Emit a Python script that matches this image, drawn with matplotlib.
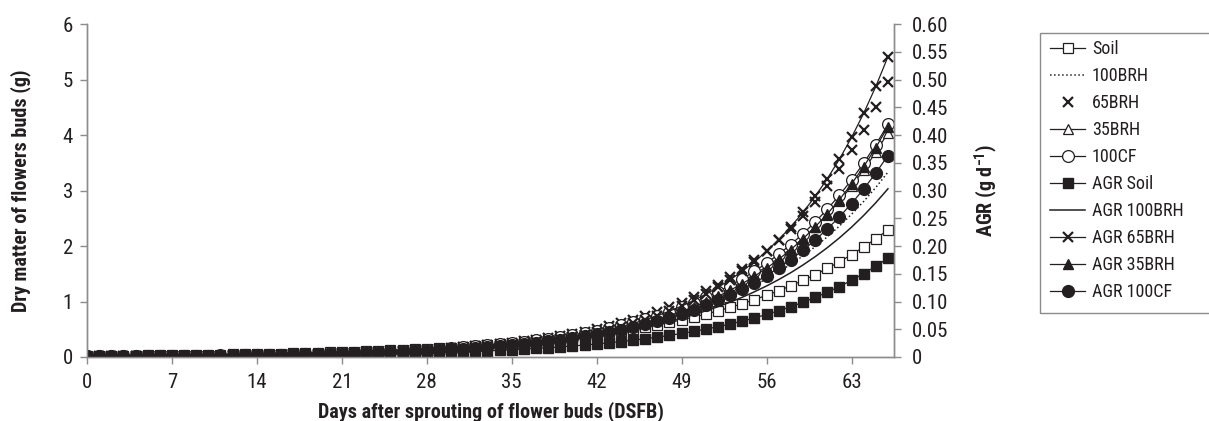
import numpy as np
import matplotlib
matplotlib.use("Agg")
from matplotlib import pyplot as plt
from matplotlib import font_manager
from matplotlib.patches import Rectangle
from matplotlib.ticker import FuncFormatter

# Dias apos a brotacao (0..66)
days = np.arange(0, 67)

# Materia seca dos botoes florais (g)
soil_dm = [0.019, 0.021, 0.022, 0.024, 0.026, 0.028, 0.030, 0.032, 0.034, 0.037,
           0.040, 0.043, 0.046, 0.049, 0.053, 0.057, 0.061, 0.066, 0.071, 0.076,
           0.082, 0.088, 0.095, 0.102, 0.110, 0.118, 0.127, 0.136, 0.147, 0.158,
           0.170, 0.182, 0.196, 0.211, 0.226, 0.243, 0.262, 0.281, 0.302, 0.325,
           0.349, 0.376, 0.404, 0.434, 0.467, 0.502, 0.539, 0.580, 0.623, 0.670,
           0.720, 0.774, 0.832, 0.894, 0.961, 1.034, 1.111, 1.194, 1.284, 1.380,
           1.484, 1.595, 1.715, 1.843, 1.982, 2.130, 2.290]
brh100_dm = [0.011, 0.012, 0.013, 0.015, 0.016, 0.017, 0.019, 0.021, 0.022, 0.025,
             0.027, 0.029, 0.032, 0.035, 0.038, 0.041, 0.045, 0.049, 0.053, 0.058,
             0.063, 0.069, 0.075, 0.082, 0.089, 0.097, 0.106, 0.116, 0.126, 0.137,
             0.150, 0.163, 0.178, 0.194, 0.211, 0.230, 0.251, 0.274, 0.298, 0.325,
             0.354, 0.386, 0.421, 0.459, 0.500, 0.545, 0.594, 0.648, 0.706, 0.770,
             0.839, 0.914, 0.997, 1.086, 1.184, 1.291, 1.407, 1.533, 1.671, 1.822,
             1.986, 2.164, 2.359, 2.571, 2.803, 3.055, 3.330]
brh65_dm = [0.009, 0.010, 0.011, 0.012, 0.013, 0.015, 0.016, 0.018, 0.020, 0.022,
            0.024, 0.026, 0.029, 0.032, 0.035, 0.038, 0.042, 0.046, 0.051, 0.056,
            0.062, 0.068, 0.075, 0.082, 0.091, 0.100, 0.110, 0.121, 0.133, 0.146,
            0.160, 0.177, 0.194, 0.214, 0.235, 0.259, 0.284, 0.313, 0.344, 0.378,
            0.416, 0.458, 0.504, 0.554, 0.609, 0.670, 0.737, 0.811, 0.892, 0.981,
            1.080, 1.187, 1.306, 1.437, 1.580, 1.739, 1.912, 2.104, 2.314, 2.545,
            2.800, 3.080, 3.388, 3.727, 4.099, 4.509, 4.960]
brh35_dm = [0.011, 0.012, 0.013, 0.013, 0.014, 0.016, 0.017, 0.019, 0.021, 0.023,
            0.025, 0.028, 0.030, 0.033, 0.036, 0.040, 0.043, 0.047, 0.052, 0.057,
            0.063, 0.068, 0.074, 0.082, 0.090, 0.097, 0.107, 0.118, 0.128, 0.141,
            0.154, 0.169, 0.184, 0.202, 0.222, 0.242, 0.265, 0.290, 0.318, 0.348,
            0.382, 0.417, 0.458, 0.501, 0.549, 0.601, 0.658, 0.720, 0.789, 0.864,
            0.946, 1.036, 1.134, 1.242, 1.360, 1.489, 1.630, 1.785, 1.954, 2.141,
            2.344, 2.567, 2.810, 3.077, 3.369, 3.689, 4.040]
cf100_dm = [0.011, 0.012, 0.013, 0.014, 0.015, 0.017, 0.018, 0.020, 0.022, 0.024,
            0.026, 0.029, 0.031, 0.034, 0.037, 0.041, 0.045, 0.049, 0.054, 0.059,
            0.065, 0.071, 0.077, 0.085, 0.093, 0.101, 0.111, 0.122, 0.133, 0.146,
            0.160, 0.175, 0.191, 0.210, 0.230, 0.251, 0.275, 0.301, 0.330, 0.361,
            0.396, 0.433, 0.475, 0.520, 0.569, 0.623, 0.682, 0.747, 0.818, 0.896,
            0.981, 1.074, 1.176, 1.288, 1.410, 1.544, 1.691, 1.851, 2.027, 2.220,
            2.431, 2.662, 2.914, 3.191, 3.494, 3.826, 4.190]

# Taxa de crescimento absoluto, AGR (g d-1)
agr_soil = [0.0007, 0.0007, 0.0008, 0.0009, 0.0010, 0.0010, 0.0011, 0.0012, 0.0013, 0.0015,
            0.0016, 0.0017, 0.0019, 0.0020, 0.0022, 0.0024, 0.0026, 0.0028, 0.0031, 0.0034,
            0.0037, 0.0040, 0.0043, 0.0047, 0.0051, 0.0056, 0.0061, 0.0066, 0.0072, 0.0078,
            0.0085, 0.0093, 0.0101, 0.0110, 0.0120, 0.0130, 0.0142, 0.0154, 0.0168, 0.0182,
            0.0199, 0.0216, 0.0235, 0.0256, 0.0278, 0.0303, 0.0329, 0.0358, 0.0390, 0.0424,
            0.0462, 0.0502, 0.0546, 0.0594, 0.0647, 0.0704, 0.0766, 0.0833, 0.0906, 0.0986,
            0.1073, 0.1167, 0.1270, 0.1382, 0.1504, 0.1636, 0.1780]
agr_brh100 = [0.0010, 0.0011, 0.0012, 0.0014, 0.0015, 0.0015, 0.0017, 0.0019, 0.0020, 0.0023,
              0.0025, 0.0026, 0.0029, 0.0032, 0.0035, 0.0037, 0.0041, 0.0045, 0.0048, 0.0053,
              0.0057, 0.0063, 0.0068, 0.0075, 0.0081, 0.0088, 0.0096, 0.0106, 0.0115, 0.0125,
              0.0136, 0.0148, 0.0162, 0.0177, 0.0192, 0.0209, 0.0228, 0.0249, 0.0271, 0.0296,
              0.0322, 0.0351, 0.0383, 0.0418, 0.0455, 0.0496, 0.0540, 0.0590, 0.0642, 0.0701,
              0.0763, 0.0832, 0.0907, 0.0988, 0.1077, 0.1175, 0.1280, 0.1395, 0.1520, 0.1658,
              0.1807, 0.1969, 0.2146, 0.2339, 0.2550, 0.2780, 0.3030]
agr_brh65 = [0.0005, 0.0006, 0.0007, 0.0007, 0.0008, 0.0009, 0.0010, 0.0011, 0.0013, 0.0014,
             0.0016, 0.0017, 0.0019, 0.0021, 0.0024, 0.0026, 0.0029, 0.0033, 0.0036, 0.0040,
             0.0044, 0.0049, 0.0055, 0.0061, 0.0068, 0.0075, 0.0083, 0.0092, 0.0103, 0.0114,
             0.0126, 0.0140, 0.0156, 0.0173, 0.0192, 0.0213, 0.0236, 0.0262, 0.0291, 0.0323,
             0.0359, 0.0398, 0.0442, 0.0491, 0.0545, 0.0605, 0.0671, 0.0745, 0.0827, 0.0918,
             0.1019, 0.1131, 0.1255, 0.1393, 0.1547, 0.1717, 0.1905, 0.2115, 0.2348, 0.2606,
             0.2893, 0.3211, 0.3564, 0.3956, 0.4391, 0.4874, 0.5410]
agr_brh35 = [0.0008, 0.0008, 0.0009, 0.0010, 0.0011, 0.0013, 0.0013, 0.0015, 0.0017, 0.0018,
             0.0020, 0.0022, 0.0024, 0.0027, 0.0029, 0.0032, 0.0035, 0.0038, 0.0043, 0.0047,
             0.0052, 0.0057, 0.0063, 0.0069, 0.0076, 0.0084, 0.0092, 0.0101, 0.0111, 0.0122,
             0.0134, 0.0148, 0.0162, 0.0179, 0.0197, 0.0217, 0.0238, 0.0262, 0.0288, 0.0316,
             0.0348, 0.0383, 0.0422, 0.0464, 0.0510, 0.0561, 0.0617, 0.0679, 0.0746, 0.0821,
             0.0904, 0.0993, 0.1093, 0.1202, 0.1322, 0.1455, 0.1600, 0.1760, 0.1936, 0.2129,
             0.2343, 0.2577, 0.2835, 0.3118, 0.3430, 0.3773, 0.4150]
agr_cf100 = [0.0010, 0.0010, 0.0011, 0.0012, 0.0013, 0.0015, 0.0016, 0.0017, 0.0019, 0.0021,
             0.0023, 0.0025, 0.0027, 0.0029, 0.0032, 0.0036, 0.0039, 0.0042, 0.0047, 0.0051,
             0.0056, 0.0062, 0.0067, 0.0074, 0.0081, 0.0087, 0.0096, 0.0106, 0.0115, 0.0126,
             0.0139, 0.0152, 0.0165, 0.0182, 0.0199, 0.0217, 0.0238, 0.0261, 0.0286, 0.0313,
             0.0343, 0.0375, 0.0411, 0.0450, 0.0493, 0.0540, 0.0591, 0.0647, 0.0709, 0.0776,
             0.0850, 0.0930, 0.1019, 0.1116, 0.1221, 0.1338, 0.1465, 0.1604, 0.1756, 0.1923,
             0.2106, 0.2306, 0.2524, 0.2764, 0.3027, 0.3314, 0.3630]

x_ticks = [0, 7, 14, 21, 28, 35, 42, 49, 56, 63]
y_ticks = [0, 1, 2, 3, 4, 5, 6]
y2_ticks = [0, 0.05, 0.10, 0.15, 0.20, 0.25, 0.30, 0.35, 0.40, 0.45, 0.50, 0.55, 0.60]

# cerca un font stretto (tipo Helvetica Condensed), altrimenti Liberation Sans
fm = font_manager.fontManager
names = {f.name for f in fm.ttflist}
fam, stretch, narrow = 'Liberation Sans', 'normal', False
for cand in ['Liberation Sans Narrow', 'Roboto Condensed', 'Noto Sans Condensed',
             'Open Sans Condensed', 'DejaVu Sans Condensed']:
    if cand in names:
        fam, narrow = cand, True
        break
if not narrow:
    for base in ['Noto Sans', 'Roboto', 'Open Sans', 'DejaVu Sans']:
        if any(f.name == base and f.stretch == 'condensed' for f in fm.ttflist):
            fam, stretch, narrow = base, 'condensed', True
            break

plt.rcParams['font.family'] = [fam, 'DejaVu Sans']
plt.rcParams['font.stretch'] = stretch
plt.rcParams['mathtext.fontset'] = 'custom'
plt.rcParams['mathtext.rm'] = fam
plt.rcParams['mathtext.bf'] = fam + ':bold'

tick_fs = 15 if narrow else 14.5
lab_fs = 14.5 if narrow else 13
leg_fs = 13

grey = '#8c8c8c'
ink = '#231f20'
W, H = 1209, 421

fig = plt.figure(figsize=(W / 100, H / 100), dpi=100)
ax = fig.add_axes([87 / W, 1 - 357 / H, (894 - 87) / W, (357 - 24) / H])
ax2 = ax.twinx()

lw = 0.9
ax.plot(days, soil_dm, '-s', color=ink, mfc='white', mec=ink, ms=6.5, mew=0.9, lw=lw, label='Soil')
ax.plot(days, brh100_dm, ':', color=ink, lw=1.1, label='100BRH')
ax.plot(days, brh65_dm, 'x', color=ink, ms=7, mew=1.6, ls='none', label='65BRH')
ax.plot(days, brh35_dm, '-^', color=ink, mfc='white', mec=ink, ms=7.5, mew=0.9, lw=lw, label='35BRH')
ax.plot(days, cf100_dm, '-o', color=ink, mfc='white', mec=ink, ms=8.5, mew=0.9, lw=lw, label='100CF')

ax2.plot(days, agr_soil, '-s', color=ink, mfc=ink, mec=ink, ms=6.5, lw=lw, label='AGR Soil')
ax2.plot(days, agr_brh100, '-', color=ink, lw=1.1, label='AGR 100BRH')
ax2.plot(days, agr_brh65, '-x', color=ink, ms=7, mew=1.6, lw=lw, label='AGR 65BRH')
ax2.plot(days, agr_brh35, '-^', color=ink, mfc=ink, mec=ink, ms=7.5, lw=lw, label='AGR 35BRH')
ax2.plot(days, agr_cf100, '-o', color=ink, mfc=ink, mec=ink, ms=8.5, lw=lw, label='AGR 100CF')

ax.set_xlim(0, 66.5)
ax.set_ylim(0, 6)
ax2.set_ylim(0, 0.6)
ax.set_xticks(x_ticks)
ax.set_yticks(y_ticks)
ax2.set_yticks(y2_ticks)
ax2.yaxis.set_major_formatter(FuncFormatter(lambda v, p: '0' if v == 0 else f'{v:.2f}'))

for a in (ax, ax2):
    a.spines['top'].set_visible(False)
    for s in a.spines.values():
        s.set_color(grey)
        s.set_linewidth(1.0)
    a.tick_params(colors=grey, labelcolor=ink, labelsize=tick_fs, length=5, width=1.0)
ax.tick_params(axis='x', pad=6.5)
ax.tick_params(axis='y', pad=5)
ax2.tick_params(axis='y', pad=8)

ax.set_xlabel('Days after sprouting of flower buds (DSFB)', fontsize=lab_fs, fontweight='bold',
              color=ink, labelpad=7)
ax.set_ylabel('Dry matter of flowers buds (g)', fontsize=lab_fs, fontweight='bold', color=ink,
              va='center')
ax.yaxis.set_label_coords((21 - 87) / 807, 0.5)
ax2.set_ylabel(r'AGR (g d$^{\mathbf{-1}}$)', fontsize=lab_fs, fontweight='bold', color=ink,
               va='center')
ax2.yaxis.set_label_coords((986 - 87) / 807, 0.5)

# legenda: cornice disegnata a parte, tagliata dal bordo destro come nell'originale
fig.patches.append(Rectangle((1040 / W, 1 - 313 / H), 190 / W, 280 / H, transform=fig.transFigure,
                             fill=False, edgecolor=grey, linewidth=1.0))
h1, l1 = ax.get_legend_handles_labels()
h2, l2 = ax2.get_legend_handles_labels()
px = leg_fs * 100 / 72
leg = fig.legend(h1 + h2, l1 + l2, loc='upper left', bbox_to_anchor=(1050 / W, 1 - 40 / H),
                 fontsize=leg_fs, frameon=False, handlelength=35 / px, handletextpad=7 / px,
                 labelspacing=0.5, borderpad=0, borderaxespad=0)
for t in leg.get_texts():
    t.set_color(ink)

fig.savefig('out.png', dpi=100)
